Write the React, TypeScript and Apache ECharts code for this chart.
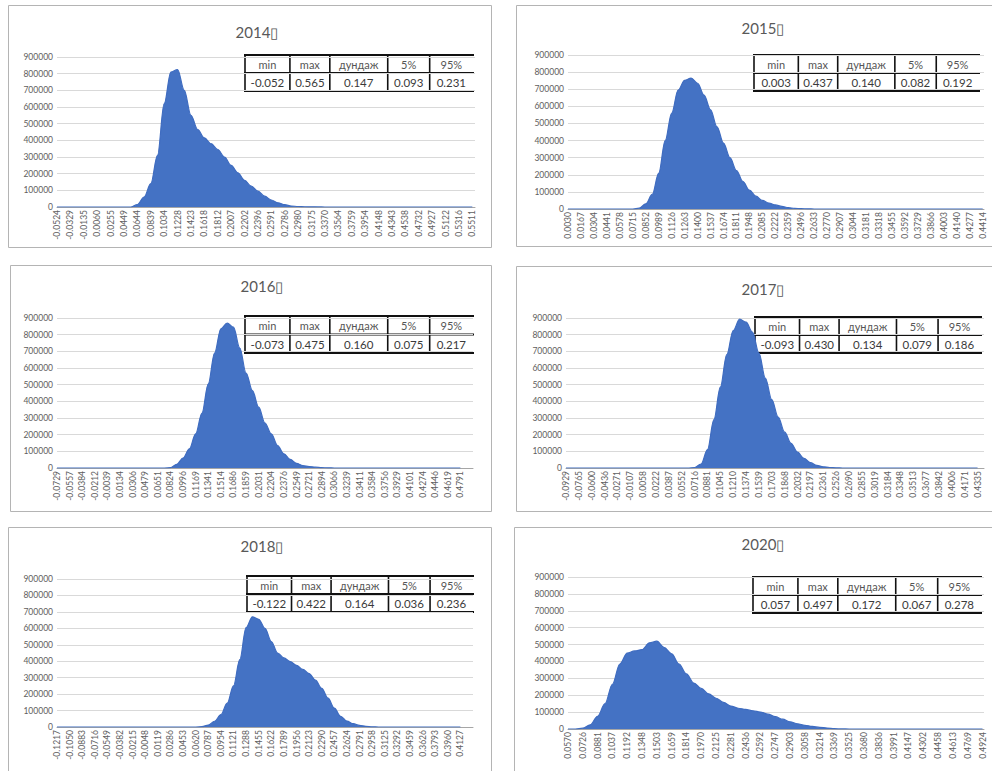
import React, { useEffect, useRef } from "react";
import * as echarts from "echarts";

// ---------- data ----------
const statHeaders = ["min", "max", "дундаж", "5%", "95%"];

const stats2014 = ["-0.052", "0.565", "0.147", "0.093", "0.231"];
const stats2015 = ["0.003", "0.437", "0.140", "0.082", "0.192"];
const stats2016 = ["-0.073", "0.475", "0.160", "0.075", "0.217"];
const stats2017 = ["-0.093", "0.430", "0.134", "0.079", "0.186"];
const stats2018 = ["-0.122", "0.422", "0.164", "0.036", "0.236"];
const stats2020 = ["0.057", "0.497", "0.172", "0.067", "0.278"];

const labels2014 = ["-0.0524", "-0.0329", "-0.0135", "0.0060", "0.0255", "0.0449", "0.0644", "0.0839", "0.1034", "0.1228", "0.1423", "0.1618", "0.1812", "0.2007", "0.2202", "0.2396", "0.2591", "0.2786", "0.2980", "0.3175", "0.3370", "0.3564", "0.3759", "0.3954", "0.4148", "0.4343", "0.4538", "0.4732", "0.4927", "0.5122", "0.5316", "0.5511"];
const labels2015 = ["0.0030", "0.0167", "0.0304", "0.0441", "0.0578", "0.0715", "0.0852", "0.0989", "0.1126", "0.1263", "0.1400", "0.1537", "0.1674", "0.1811", "0.1948", "0.2085", "0.2222", "0.2359", "0.2496", "0.2633", "0.2770", "0.2907", "0.3044", "0.3181", "0.3318", "0.3455", "0.3592", "0.3729", "0.3866", "0.4003", "0.4140", "0.4277", "0.4414"];
const labels2016 = ["-0.0729", "-0.0557", "-0.0384", "-0.0212", "-0.0039", "0.0134", "0.0306", "0.0479", "0.0651", "0.0824", "0.0996", "0.1169", "0.1341", "0.1514", "0.1686", "0.1859", "0.2031", "0.2204", "0.2376", "0.2549", "0.2721", "0.2894", "0.3066", "0.3239", "0.3411", "0.3584", "0.3756", "0.3929", "0.4101", "0.4274", "0.4446", "0.4619", "0.4791"];
const labels2017 = ["-0.0929", "-0.0765", "-0.0600", "-0.0436", "-0.0271", "-0.0107", "0.0058", "0.0222", "0.0387", "0.0552", "0.0716", "0.0881", "0.1045", "0.1210", "0.1374", "0.1539", "0.1703", "0.1868", "0.2032", "0.2197", "0.2361", "0.2526", "0.2690", "0.2855", "0.3019", "0.3184", "0.3348", "0.3513", "0.3677", "0.3842", "0.4006", "0.4171", "0.4335"];
const labels2018 = ["-0.1217", "-0.1050", "-0.0883", "-0.0716", "-0.0549", "-0.0382", "-0.0215", "-0.0048", "0.0119", "0.0286", "0.0453", "0.0620", "0.0787", "0.0954", "0.1121", "0.1288", "0.1455", "0.1622", "0.1789", "0.1956", "0.2123", "0.2290", "0.2457", "0.2624", "0.2791", "0.2958", "0.3125", "0.3292", "0.3459", "0.3626", "0.3793", "0.3960", "0.4127"];
const labels2020 = ["0.0570", "0.0726", "0.0881", "0.1037", "0.1192", "0.1348", "0.1503", "0.1659", "0.1814", "0.1970", "0.2125", "0.2281", "0.2436", "0.2592", "0.2747", "0.2903", "0.3058", "0.3214", "0.3369", "0.3525", "0.3680", "0.3836", "0.3991", "0.4147", "0.4302", "0.4458", "0.4613", "0.4769", "0.4924"];

// counts sampled every half label-step, starting at the first label
const counts2014 = [
  0, 0, 0, 0, 0, 0, 0, 0, 0, 0, 0, 0,
  15000, 60000, 140000, 310000, 620000, 810000, 825000, 700000, 550000, 465000,
  415000, 380000, 345000, 300000, 250000, 205000, 160000, 125000, 95000, 65000,
  42000, 25000, 14000, 6000, 3000, 1500, 800, 400,
  0, 0, 0, 0, 0, 0, 0, 0, 0, 0, 0, 0, 0, 0, 0, 0, 0, 0, 0, 0, 0, 0, 0,
];
const counts2015 = [
  0, 0, 0, 0, 0, 0, 0, 0, 0, 0, 0,
  5000, 30000, 85000, 210000, 400000, 560000, 695000, 752000, 765000, 735000,
  665000, 580000, 480000, 385000, 300000, 225000, 160000, 110000, 75000, 50000,
  35000, 24000, 15000, 8000, 4000, 2000, 800,
  0, 0, 0, 0, 0, 0, 0, 0, 0, 0, 0, 0, 0, 0, 0, 0, 0, 0, 0, 0, 0, 0, 0, 0, 0, 0, 0,
];
const counts2016 = [
  0, 0, 0, 0, 0, 0, 0, 0, 0, 0, 0, 0, 0, 0, 0, 0, 0, 0,
  2000, 22000, 60000, 115000, 205000, 330000, 505000, 690000, 835000, 870000,
  845000, 720000, 570000, 465000, 365000, 270000, 205000, 135000, 85000, 52000,
  28000, 15000, 9000, 5000, 2000, 800,
  0, 0, 0, 0, 0, 0, 0, 0, 0, 0, 0, 0, 0, 0, 0, 0, 0, 0, 0, 0, 0,
];
const counts2017 = [
  0, 0, 0, 0, 0, 0, 0, 0, 0, 0, 0, 0, 0, 0, 0, 0, 0, 0, 0, 0,
  3000, 24000, 110000, 290000, 485000, 680000, 825000, 893000, 875000, 815000,
  690000, 540000, 410000, 305000, 215000, 148000, 95000, 58000, 32000, 16000,
  7000, 3000, 1000,
  0, 0, 0, 0, 0, 0, 0, 0, 0, 0, 0, 0, 0, 0, 0, 0, 0, 0, 0, 0, 0, 0,
];
const counts2018 = [
  0, 0, 0, 0, 0, 0, 0, 0, 0, 0, 0, 0, 0, 0, 0, 0, 0, 0, 0, 0, 0, 0, 0,
  2000, 12000, 35000, 75000, 145000, 250000, 410000, 605000, 670000, 655000,
  600000, 520000, 450000, 420000, 398000, 375000, 350000, 325000, 285000, 235000,
  175000, 115000, 65000, 36000, 20000, 10000, 4000, 1000,
  0, 0, 0, 0, 0, 0, 0, 0, 0, 0, 0, 0, 0, 0,
];
const counts2020 = [
  0, 0, 5000, 25000, 75000, 150000, 265000, 385000, 450000, 462000,
  470000, 510000, 520000, 482000, 445000, 385000, 326000, 272000, 240000, 208000,
  182000, 158000, 136000, 123000, 116000, 108000, 100000, 88000, 73000, 58000,
  43000, 31000, 22000, 15000, 10000, 6000, 2000, 500,
  0, 0, 0, 0, 0, 0, 0, 0, 0, 0, 0, 0, 0, 0, 0, 0, 0, 0, 0,
];

// ---------- layout ----------
type Panel = {
  title: string;
  labels: string[];
  counts: number[];
  stats: string[];
  box: number[]; // left, top, width, height (page px)
  grid: number[]; // left, top, width, height (local px)
  xMax: number;
  titlePos: number[];
  table: number[]; // x, y, w, h (local px)
};

const panels: Panel[] = [
  { title: "2014▯", labels: labels2014, counts: counts2014, stats: stats2014, box: [8, 5, 484, 243], grid: [49, 52, 418, 150], xMax: 31.2, titlePos: [249, 27], table: [237, 50, 228, 36] },
  { title: "2015▯", labels: labels2015, counts: counts2015, stats: stats2015, box: [516, 5, 480, 242], grid: [52, 50, 416, 154], xMax: 32.1, titlePos: [247, 23], table: [238, 50, 225, 36] },
  { title: "2016▯", labels: labels2016, counts: counts2016, stats: stats2016, box: [10, 265, 482, 247], grid: [47, 53, 416, 150], xMax: 33, titlePos: [252, 21], table: [235, 51, 228, 37] },
  { title: "2017▯", labels: labels2017, counts: counts2017, stats: stats2017, box: [516, 266, 480, 246], grid: [50, 52, 418, 150], xMax: 32.5, titlePos: [247, 23], table: [239, 51, 226, 36] },
  { title: "2018▯", labels: labels2018, counts: counts2018, stats: stats2018, box: [8, 527, 484, 253], grid: [49, 52, 416, 148], xMax: 33, titlePos: [254, 19], table: [239, 49, 226, 36] },
  { title: "2020▯", labels: labels2020, counts: counts2020, stats: stats2020, box: [514, 527, 482, 253], grid: [54, 50, 416, 152], xMax: 28.1, titlePos: [249, 17], table: [239, 50, 228, 36] },
];

const FONT = "Lato, 'Open Sans', sans-serif";
const colFrac = [0.197, 0.175, 0.254, 0.184, 0.19];

function tableGraphic(p: Panel) {
  const [tx, ty, tw, th] = p.table;
  const xs = [0];
  colFrac.forEach((f) => xs.push(xs[xs.length - 1] + f * tw));
  const rh = th / 2;
  const children: any[] = [
    { type: "rect", shape: { x: 0, y: 0, width: tw, height: th }, style: { fill: "#fff" } },
  ];
  [0, rh, th].forEach((y) =>
    children.push({ type: "line", shape: { x1: -1, y1: y, x2: tw + 1, y2: y }, style: { stroke: "#111", lineWidth: 2 } })
  );
  xs.slice(0, 5).forEach((x) =>
    children.push({ type: "line", shape: { x1: x, y1: 0, x2: x, y2: th }, style: { stroke: "#111", lineWidth: 1.6 } })
  );
  for (let i = 0; i < 5; i++) {
    const cx = (xs[i] + xs[i + 1]) / 2;
    children.push({
      type: "text",
      style: { text: statHeaders[i], x: cx, y: rh / 2 + 0.5, textAlign: "center", textVerticalAlign: "middle", fontSize: 11, fontFamily: FONT, fill: "#555555" },
    });
    children.push({
      type: "text",
      style: { text: p.stats[i], x: cx, y: rh * 1.5 + 0.5, textAlign: "center", textVerticalAlign: "middle", fontSize: 11.5, fontFamily: FONT, fill: "#3a3a3a" },
    });
  }
  return { type: "group", x: tx, y: ty, z: 10, children };
}

function buildOption(p: Panel) {
  const [, , bw, bh] = p.box;
  const [gl, gt, gw, gh] = p.grid;
  return {
    animation: false,
    backgroundColor: "#fff",
    grid: { left: gl, top: gt, width: gw, height: gh, containLabel: false },
    xAxis: {
      type: "value",
      min: 0,
      max: p.xMax,
      interval: 1,
      axisLine: { show: true, lineStyle: { color: "#A6A6A6", width: 1 } },
      axisTick: { show: false },
      splitLine: { show: false },
      axisLabel: {
        rotate: 90,
        fontSize: 8.5,
        color: "#606060",
        fontFamily: FONT,
        margin: 3,
        showMaxLabel: false,
        formatter: (v: number) => {
          const r = Math.round(v);
          return Math.abs(v - r) < 1e-6 && p.labels[r] !== undefined ? p.labels[r] : "";
        },
      },
    },
    yAxis: {
      type: "value",
      min: 0,
      max: 900000,
      interval: 100000,
      axisLine: { show: false },
      axisTick: { show: false },
      splitLine: { lineStyle: { color: "#D9D9D9", width: 1 } },
      axisLabel: { fontSize: 8.5, color: "#606060", fontFamily: FONT, margin: 4, formatter: (v: number) => String(v) },
    },
    series: [
      {
        type: "line",
        data: p.counts.map((c, i) => [i / 2, c]),
        smooth: 0.35,
        smoothMonotone: "x",
        showSymbol: false,
        lineStyle: { color: "#3F6CC0", width: 1.2 },
        areaStyle: { color: "#4472C4", opacity: 1 },
        itemStyle: { color: "#4472C4" },
        z: 2,
      },
    ],
    graphic: [
      {
        type: "rect",
        shape: { x: 0.5, y: 0.5, width: bw - 1, height: bh - 1 },
        style: { fill: "none", stroke: "#B4B4B4", lineWidth: 1 },
        silent: true,
        z: 0,
      },
      {
        type: "text",
        x: p.titlePos[0],
        y: p.titlePos[1],
        style: { text: p.title, textAlign: "center", textVerticalAlign: "middle", fontSize: 15, fontFamily: FONT, fill: "#595959" },
      },
      tableGraphic(p),
    ],
  };
}

function PanelChart({ p }: { p: Panel }) {
  const ref = useRef<HTMLDivElement>(null);
  useEffect(() => {
    if (!ref.current) return;
    const chart = echarts.init(ref.current, null, { renderer: "svg" });
    chart.setOption(buildOption(p) as any);
    return () => chart.dispose();
  }, [p]);
  const [l, t, w, h] = p.box;
  return <div ref={ref} style={{ position: "absolute", left: l, top: t, width: w, height: h }} />;
}

export default function App() {
  return (
    <div style={{ position: "absolute", left: 0, top: 0, width: 992, height: 771, overflow: "hidden", background: "#fff" }}>
      {panels.map((p) => (
        <PanelChart key={p.title} p={p} />
      ))}
    </div>
  );
}
